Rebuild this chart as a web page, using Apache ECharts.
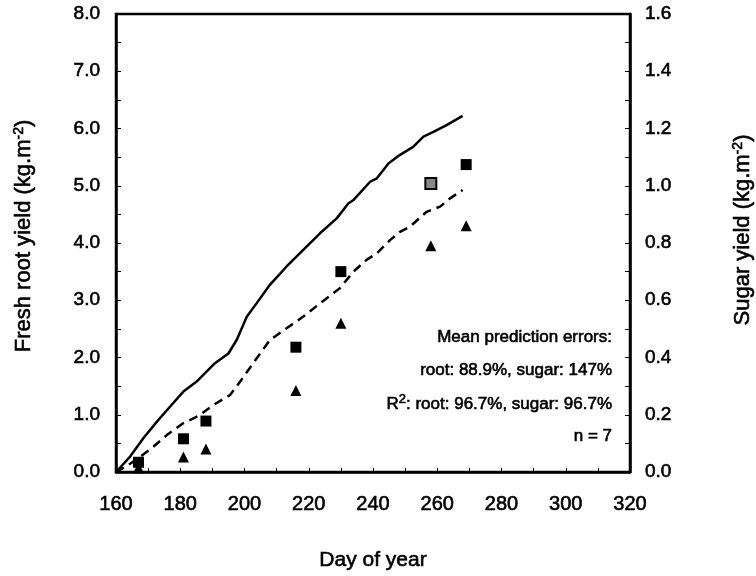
<!DOCTYPE html>
<html>
<head>
<meta charset="utf-8">
<script src="https://cdn.jsdelivr.net/npm/echarts@6/dist/echarts.min.js"></script>
<style>html,body{margin:0;padding:0;background:#fff}#c{width:756px;height:576px}</style>
</head>
<body>
<div id="c"></div>
<script>
// Simulated fresh root yield (solid line, left axis, kg/m2)
const rootSimDays   = [160, 164.4, 168.5, 173.2, 176.8, 180.9, 185.1, 190.8, 195.0, 197.6, 200.7, 203.8, 207.9, 213.1, 218.3, 223.5, 228.7, 232.3, 233.9, 239.1, 241.2, 244.8, 248.4, 252.5, 255.7, 258.8, 262.9, 267.9];
const rootSimValues = [0, 0.27, 0.59, 0.91, 1.14, 1.40, 1.58, 1.90, 2.07, 2.31, 2.71, 2.95, 3.27, 3.59, 3.88, 4.17, 4.43, 4.69, 4.75, 5.07, 5.13, 5.39, 5.54, 5.68, 5.86, 5.94, 6.06, 6.22];
// Simulated sugar yield (dashed line, right axis, kg/m2)
const sugarSimDays   = [160, 163.8, 167.5, 171.6, 175.8, 180.9, 186.1, 190.3, 195.5, 198.6, 202.7, 207.9, 213.1, 218.3, 223.5, 229.7, 233.9, 238.0, 241.2, 245.3, 248.4, 251.5, 256.7, 260.9, 264.0, 267.9];
const sugarSimValues = [0, 0.024, 0.053, 0.088, 0.129, 0.170, 0.199, 0.234, 0.269, 0.315, 0.380, 0.461, 0.502, 0.543, 0.589, 0.642, 0.700, 0.741, 0.764, 0.810, 0.839, 0.857, 0.909, 0.927, 0.956, 0.985];
// Observations
const obsDays       = [167, 181, 188, 216, 230, 258, 269];
const rootObserved  = [0.17, 0.58, 0.89, 2.18, 3.50, 5.04, 5.37];
const sugarObserved = [0.015, 0.052, 0.08, 0.285, 0.52, 0.79, 0.86];
// Axis ticks
const xTicks = [160, 180, 200, 220, 240, 260, 280, 300, 320];
const leftTicks = [0, 1, 2, 3, 4, 5, 6, 7, 8];
const rightTicks = [0, 0.2, 0.4, 0.6, 0.8, 1.0, 1.2, 1.4, 1.6];
// Annotation text
const annotationLines = ['Mean prediction errors:', 'root: 88.9%, sugar: 147%', '{sup|2}: root: 96.7%, sugar: 96.7%', 'n = 7'];

const FONT = 'Liberation Sans, Arial, Helvetica, sans-serif';
const zip = (a, b) => a.map((v, i) => [v, b[i]]);

const chart = echarts.init(document.getElementById('c'), null, {renderer: 'canvas'});
const axisLine = {show: true, lineStyle: {color: '#000', width: 2.5}};
const labelBase = {color: '#000', fontFamily: FONT, textBorderColor: '#000', textBorderWidth: 0.6};
const txt = (x, y, text, size, extra) => ({type: 'text', x: x, y: y, style: Object.assign({
  text: text, font: size + 'px ' + FONT, fill: '#000', stroke: '#000', lineWidth: 0.6,
  textAlign: 'right', textVerticalAlign: 'middle'}, extra || {})});
const supRich = s => ({sup: {fontSize: s, fontFamily: FONT, verticalAlign: 'top', padding: [0, 0, 9, 0]}});

const rootObsData = zip(obsDays, rootObserved).map((p, i) =>
  i === 5 ? {value: p, itemStyle: {color: '#888', borderColor: '#000', borderWidth: 2}} : p);

const option = {
  backgroundColor: '#fff',
  animation: false,
  grid: {left: 116, right: 126, top: 14, bottom: 104, show: true, borderColor: '#000', borderWidth: 2.5, backgroundColor: 'transparent'},
  xAxis: {
    type: 'value', min: xTicks[0], max: xTicks[xTicks.length - 1], interval: 20,
    axisLine: axisLine,
    axisTick: {show: true, inside: true, length: 4, lineStyle: {color: '#000', width: 1}},
    minorTick: {show: true, splitNumber: 2, length: 4, lineStyle: {color: '#000', width: 1}},
    splitLine: {show: false},
    axisLabel: Object.assign({fontSize: 20, margin: 22}, labelBase)
  },
  yAxis: [{
    type: 'value', min: leftTicks[0], max: leftTicks[leftTicks.length - 1], interval: 1, position: 'left',
    axisLine: axisLine,
    axisTick: {show: true, inside: true, length: 5, lineStyle: {color: '#000', width: 1}},
    minorTick: {show: true, splitNumber: 2, length: 5, lineStyle: {color: '#000', width: 1}},
    splitLine: {show: false},
    axisLabel: Object.assign({fontSize: 19, margin: 16, formatter: v => v.toFixed(1)}, labelBase)
  }, {
    type: 'value', min: rightTicks[0], max: rightTicks[rightTicks.length - 1], interval: 0.2, position: 'right',
    axisLine: axisLine,
    axisTick: {show: true, inside: true, length: 5, lineStyle: {color: '#000', width: 1}},
    minorTick: {show: true, splitNumber: 2, length: 5, lineStyle: {color: '#000', width: 1}},
    splitLine: {show: false},
    axisLabel: Object.assign({fontSize: 19, margin: 15, formatter: v => v.toFixed(1)}, labelBase)
  }],
  series: [{
    name: 'Root simulated', type: 'line', yAxisIndex: 0, data: zip(rootSimDays, rootSimValues),
    showSymbol: false, symbol: 'none', lineStyle: {color: '#000', width: 2.5}
  }, {
    name: 'Sugar simulated', type: 'line', yAxisIndex: 1, data: zip(sugarSimDays, sugarSimValues),
    showSymbol: false, symbol: 'none', lineStyle: {color: '#000', width: 2.5, type: [9, 6]}
  }, {
    name: 'Root observed', type: 'scatter', yAxisIndex: 0, data: rootObsData,
    symbol: 'rect', symbolSize: 11, itemStyle: {color: '#000', opacity: 1}
  }, {
    name: 'Sugar observed', type: 'scatter', yAxisIndex: 1, data: zip(obsDays, sugarObserved),
    symbol: 'triangle', symbolSize: 11, itemStyle: {color: '#000', opacity: 1}
  }],
  graphic: [
    Object.assign(txt(24, 236, 'Fresh root yield (kg.m{sup|-2})', 22, {textAlign: 'center', rich: supRich(14)}), {rotation: Math.PI / 2}),
    Object.assign(txt(743, 230, 'Sugar yield (kg.m{sup|-2})', 22, {textAlign: 'center', rich: supRich(14)}), {rotation: Math.PI / 2}),
    txt(373, 560, 'Day of year', 21, {textAlign: 'center'}),
    txt(612, 337, annotationLines[0], 17),
    txt(612, 370, annotationLines[1], 17),
    txt(612, 404, 'R' + annotationLines[2], 17, {rich: supRich(13)}),
    txt(612, 436, annotationLines[3], 17)
  ]
};
chart.setOption(option);
</script>
</body>
</html>
